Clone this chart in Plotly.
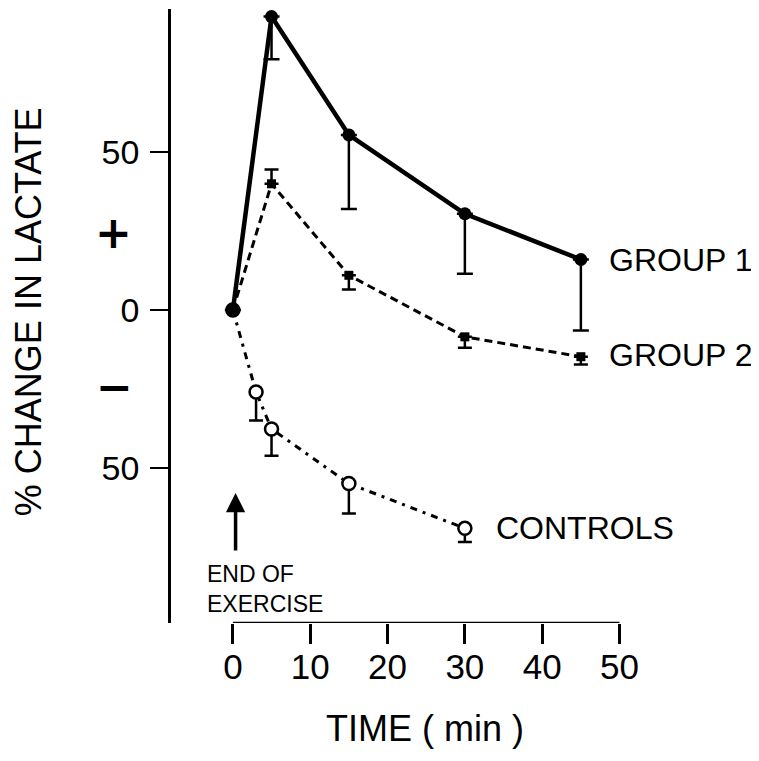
import plotly.graph_objects as go

# ---- data ----
g1_t = [0, 5, 15, 30, 45]
g1_v = [0, 93, 55.5, 30.5, 16]
g1_err_down = [0, 13.5, 23.5, 19, 22.5]

g2_t = [0, 5, 15, 30, 45]
g2_v = [0, 40, 11, -8.5, -14.8]
g2_err_up = [0, 4.5, 0, 0, 0]
g2_err_down = [0, 0, 4.5, 3.5, 2.5]

ctl_t = [0, 3, 5, 15, 30]
ctl_v = [0, -26, -37.7, -55, -69.2]
ctl_err_down = [0, 9, 8.5, 9.5, 4.3]

x_ticks = [0, 10, 20, 30, 40, 50]
y_ticks = [50, 0, -50]
y_ticktext = ["50", "0", "50"]

X_RANGE = [-8.0, 52.0]
Y_RANGE = [-99.2, 95.4]

FONT = "Liberation Sans"
BLACK = "#000000"

# plot area in page pixels (used only for placing free text)
PL, PR, PT, PB = 171.0, 635.5, 9.0, 623.0
def px(x):
    return (x - PL) / (PR - PL)
def py(y):
    return (PB - y) / (PB - PT)

fig = go.Figure()

fig.add_trace(go.Scatter(
    x=g1_t, y=g1_v, mode="lines+markers", cliponaxis=False,
    line=dict(color=BLACK, width=4.5),
    marker=dict(symbol="circle", size=13, color=BLACK),
    error_y=dict(type="data", symmetric=False, array=[0]*5, arrayminus=g1_err_down,
                 color=BLACK, thickness=2.5, width=8),
    showlegend=False))

fig.add_trace(go.Scatter(
    x=g2_t, y=g2_v, mode="lines+markers", cliponaxis=False,
    line=dict(color=BLACK, width=3, dash="8px,5px"),
    marker=dict(symbol="square", size=9, color=BLACK),
    error_y=dict(type="data", symmetric=False, array=g2_err_up, arrayminus=g2_err_down,
                 color=BLACK, thickness=2.5, width=7),
    showlegend=False))

fig.add_trace(go.Scatter(
    x=ctl_t, y=ctl_v, mode="lines+markers", cliponaxis=False,
    line=dict(color=BLACK, width=3, dash="7px,6px,3px,6px"),
    marker=dict(symbol="circle", size=13, color="white", line=dict(width=2.5, color=BLACK)),
    error_y=dict(type="data", symmetric=False, array=[0]*5, arrayminus=ctl_err_down,
                 color=BLACK, thickness=2.5, width=7),
    showlegend=False))

fig.add_trace(go.Scatter(x=[ctl_t[0]], y=[ctl_v[0]], mode="markers", cliponaxis=False,
                         marker=dict(symbol="circle", size=12, color=BLACK), showlegend=False))

# x-axis line only from 0 to 50
fig.add_shape(type="line", xref="x", yref="y", x0=x_ticks[0], x1=x_ticks[-1],
              y0=Y_RANGE[0], y1=Y_RANGE[0], line=dict(color=BLACK, width=2.5))

LBL = dict(size=32, family=FONT, color=BLACK)
ann = []
ann.append(dict(x=px(607), y=py(260), xref="paper", yref="paper", text="GROUP 1", showarrow=False,
                xanchor="left", yanchor="middle", font=LBL))
ann.append(dict(x=px(607), y=py(355.5), xref="paper", yref="paper", text="GROUP 2", showarrow=False,
                xanchor="left", yanchor="middle", font=LBL))
ann.append(dict(x=px(494), y=py(527.5), xref="paper", yref="paper", text="CONTROLS", showarrow=False,
                xanchor="left", yanchor="middle", font=LBL))
# arrow marking end of exercise
ann.append(dict(x=0.35, y=-58, xref="x", yref="y", ax=0.35, ay=-76.7, axref="x", ayref="y",
                text="", showarrow=True, arrowhead=2, arrowsize=1.1, arrowwidth=3.5,
                arrowcolor=BLACK))
ann.append(dict(x=px(205), y=py(588.5), xref="paper", yref="paper", text="END OF<br>EXERCISE",
                showarrow=False, xanchor="left", yanchor="middle", align="left",
                font=dict(size=23, family=FONT, color=BLACK)))
# + and - signs
ann.append(dict(x=px(113.5), y=py(232), xref="paper", yref="paper", text="<b>+</b>",
                showarrow=False, xanchor="center", yanchor="middle",
                font=dict(size=44, family="DejaVu Sans", color=BLACK)))
ann.append(dict(x=px(114), y=py(386), xref="paper", yref="paper", text="<b>\u2212</b>",
                showarrow=False, xanchor="center", yanchor="middle",
                font=dict(size=44, family="DejaVu Sans", color=BLACK)))
# axis titles
ann.append(dict(x=px(28.5), y=py(311.5), xref="paper", yref="paper",
                text="% CHANGE IN LACTATE", textangle=-90, showarrow=False,
                xanchor="center", yanchor="middle", font=dict(size=36, family=FONT, color=BLACK)))
ann.append(dict(x=px(425.5), y=py(728), xref="paper", yref="paper",
                text="TIME ( min )", showarrow=False,
                xanchor="center", yanchor="middle", font=dict(size=36, family=FONT, color=BLACK)))

BODY = 8  # default page margin of the html body
fig.update_layout(
    width=759, height=761,
    margin=dict(l=PL - BODY, r=759 - (PR - BODY), t=PT - BODY, b=761 - (PB - BODY)),
    paper_bgcolor="white", plot_bgcolor="white",
    annotations=ann,
    xaxis=dict(range=X_RANGE, tickvals=x_ticks, ticks="outside", ticklen=20, tickwidth=2.5,
               tickcolor=BLACK, showline=False, showgrid=False, zeroline=False,
               tickfont=dict(size=35, family=FONT, color=BLACK), ticklabelstandoff=-7),
    yaxis=dict(range=Y_RANGE, tickvals=y_ticks, ticktext=y_ticktext, ticks="outside",
               ticklen=18, tickwidth=2, tickcolor=BLACK, showline=True, linecolor=BLACK,
               linewidth=2.5, showgrid=False, zeroline=False,
               tickfont=dict(size=34, family=FONT, color=BLACK), ticklabelstandoff=4),
)

fig.write_html("out.html")
